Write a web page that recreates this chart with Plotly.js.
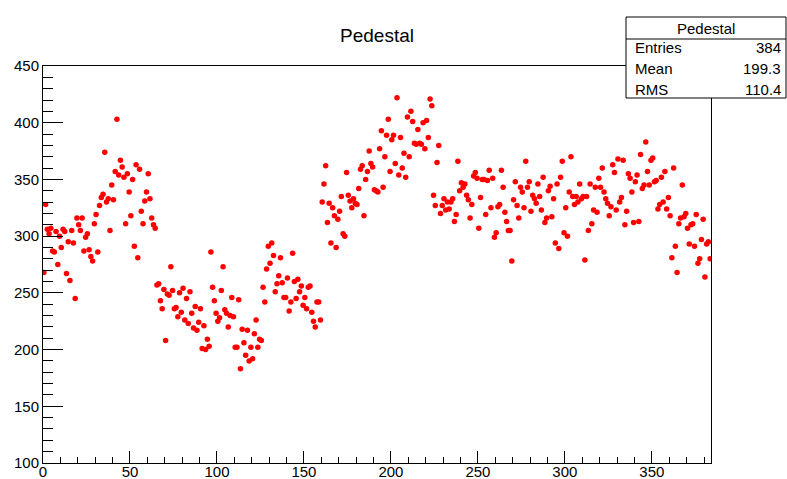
<!DOCTYPE html>
<html>
<head>
<meta charset="utf-8">
<script src="https://cdn.plot.ly/plotly-3.0.1.min.js"></script>
<style>html,body{margin:0;padding:0;background:#fff;}</style>
</head>
<body>
<div id="chart" style="width:787px;height:479px;"></div>
<script>
// Bin contents (bin i is centred at i + 0.5)
const pedestal = [
268,328,306,302,307,287,286,304,275,300,290,306,304,267,295,261,305,294,245,316,
310,305,316,287,299,302,288,282,278,311,319,286,327,334,337,374,330,333,305,345,
332,357,403,354,367,361,352,311,355,339,318,350,291,363,281,359,322,311,331,339,
355,333,316,310,307,257,258,243,236,253,208,249,248,273,252,236,237,229,250,233,
254,226,245,223,251,232,219,238,217,224,236,201,221,200,209,203,286,255,243,232,
225,228,252,273,235,232,220,230,246,229,202,202,244,183,218,206,195,217,190,202,
192,214,226,202,209,208,255,242,271,291,276,294,283,251,258,265,281,259,246,246,
263,234,242,285,260,245,262,251,256,239,246,236,255,256,233,225,220,242,242,226,
330,346,362,312,329,294,325,318,290,315,322,335,302,300,356,336,331,325,333,329,
328,342,359,362,318,350,357,375,364,361,341,340,339,377,393,343,370,389,403,357,
385,389,364,422,354,387,360,373,352,405,370,410,401,382,381,394,382,381,400,377,
402,387,421,415,336,327,365,380,320,327,333,323,330,324,330,333,313,319,366,340,
347,343,346,336,332,316,328,353,356,351,307,334,350,350,319,349,358,325,351,299,
303,326,328,358,343,321,313,305,305,278,332,348,327,316,343,339,325,366,343,348,
322,336,333,329,346,335,323,352,312,316,340,344,317,333,294,346,289,352,366,303,
325,300,339,370,335,328,335,330,346,333,335,279,335,305,346,311,323,343,321,351,
343,360,339,333,329,318,326,363,356,323,368,330,334,367,310,322,355,351,339,312,
348,354,313,372,342,345,383,357,345,367,369,348,349,324,328,352,330,357,324,334,
318,281,360,291,268,311,316,345,317,320,307,293,310,311,291,319,276,280,297,315,
264,293,295,280
];
const histTitle = "Pedestal";
const statLabels = ["Entries", "Mean", "RMS"];
const statValues = ["384", "199.3", "110.4"];
const xTicks = [0, 50, 100, 150, 200, 250, 300, 350];
const yTicks = [100, 150, 200, 250, 300, 350, 400, 450];

const xs = pedestal.map((v, i) => i + 0.5);

const font = "Liberation Sans, Arial, Helvetica, sans-serif";

const trace = {
  type: "scatter",
  mode: "markers",
  x: xs,
  y: pedestal,
  marker: { color: "#ff0000", size: 5.5, line: { width: 0 } },
  hoverinfo: "x+y"
};

// paper coords helpers (plot area: x 43..711 px, y 66..463 px)
const px = p => (p - 43) / 668;
const py = p => (463 - p) / 397;

const annotations = [
  { text: histTitle, xref: "paper", yref: "paper", x: px(706), y: py(29),
    xanchor: "center", yanchor: "middle", showarrow: false,
    font: { family: font, size: 15, color: "#000" } }
];
const rowY = [48, 68, 89];
statLabels.forEach((lab, k) => {
  annotations.push({ text: lab, xref: "paper", yref: "paper", x: px(633), y: py(rowY[k]),
    xanchor: "left", yanchor: "middle", showarrow: false,
    font: { family: font, size: 15, color: "#000" } });
  annotations.push({ text: statValues[k], xref: "paper", yref: "paper", x: px(783), y: py(rowY[k]),
    xanchor: "right", yanchor: "middle", showarrow: false,
    font: { family: font, size: 15, color: "#000" } });
});

const layout = {
  width: 787, height: 479,
  margin: { l: 43, r: 76, t: 66, b: 16, pad: 0 },
  paper_bgcolor: "#fff", plot_bgcolor: "#fff",
  showlegend: false,
  title: { text: histTitle, x: 377 / 787, xanchor: "center", y: 1 - 35 / 479, yanchor: "middle",
           font: { family: font, size: 19, color: "#000" } },
  xaxis: {
    range: [0, 384], tickvals: xTicks, ticktext: xTicks.map(String),
    ticks: "inside", ticklen: 12, tickwidth: 1, tickcolor: "#000",
    ticklabelstandoff: -5,
    minor: { dtick: 10, tick0: 0, ticks: "inside", ticklen: 6, tickcolor: "#000", showgrid: false },
    showline: true, linecolor: "#000", linewidth: 1, mirror: true,
    showgrid: false, zeroline: false,
    tickfont: { family: font, size: 15, color: "#000" }
  },
  yaxis: {
    range: [100, 450], tickvals: yTicks, ticktext: yTicks.map(String),
    ticks: "inside", ticklen: 20, tickwidth: 1, tickcolor: "#000",
    minor: { dtick: 10, tick0: 100, ticks: "inside", ticklen: 10, tickcolor: "#000", showgrid: false },
    showline: true, linecolor: "#000", linewidth: 1, mirror: true,
    showgrid: false, zeroline: false,
    tickfont: { family: font, size: 15, color: "#000" }
  },
  shapes: [
    { type: "rect", xref: "paper", yref: "paper", x0: px(626), x1: px(786), y0: py(98), y1: py(17),
      line: { color: "#000", width: 1 }, fillcolor: "#fff", layer: "above" },
    { type: "line", xref: "paper", yref: "paper", x0: px(626), x1: px(786), y0: py(39), y1: py(39),
      line: { color: "#000", width: 1 }, layer: "above" }
  ],
  annotations: annotations
};

Plotly.newPlot("chart", [trace], layout, { displayModeBar: false, staticPlot: true });
</script>
</body>
</html>
